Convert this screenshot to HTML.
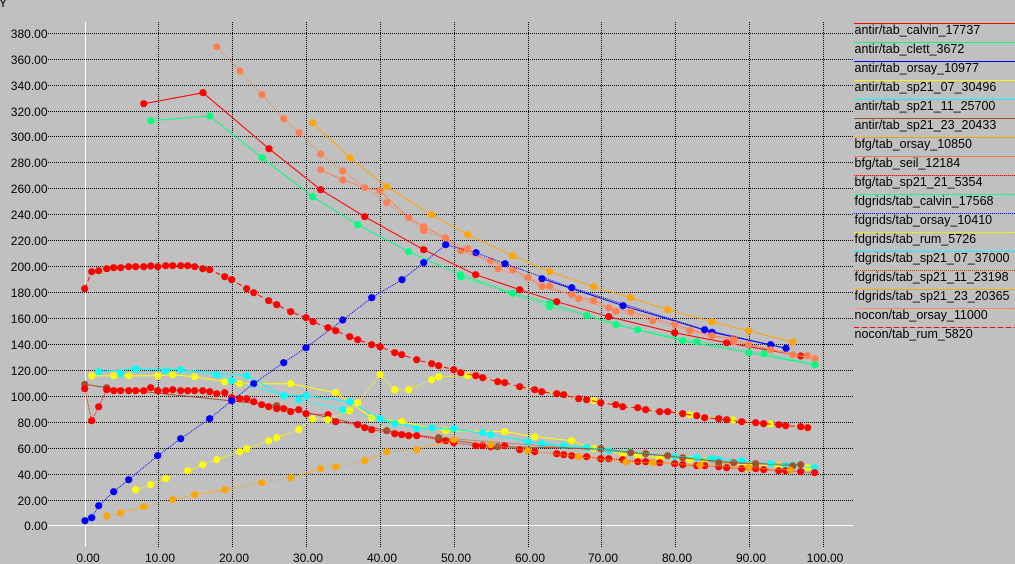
<!DOCTYPE html>
<html>
<head>
<meta charset="utf-8">
<style>
  html,body{margin:0;padding:0;background:#c0c0c0;}
  svg{display:block;}
  text{font-family:"Liberation Sans", Arial, sans-serif;fill:#000;}
</style>
</head>
<body>
<svg width="1015" height="564" viewBox="0 0 1015 564" xmlns="http://www.w3.org/2000/svg">
  <defs>
    <marker id="mRed" markerWidth="8" markerHeight="8" refX="4" refY="4" markerUnits="userSpaceOnUse"><circle cx="4" cy="4" r="3.6" fill="#ff0000"/></marker>
    <marker id="mGreen" markerWidth="8" markerHeight="8" refX="4" refY="4" markerUnits="userSpaceOnUse"><circle cx="4" cy="4" r="3.6" fill="#00ff7f"/></marker>
    <marker id="mBlue" markerWidth="8" markerHeight="8" refX="4" refY="4" markerUnits="userSpaceOnUse"><circle cx="4" cy="4" r="3.6" fill="#0000ff"/></marker>
    <marker id="mYellow" markerWidth="8" markerHeight="8" refX="4" refY="4" markerUnits="userSpaceOnUse"><circle cx="4" cy="4" r="3.6" fill="#ffff00"/></marker>
    <marker id="mCyan" markerWidth="8" markerHeight="8" refX="4" refY="4" markerUnits="userSpaceOnUse"><circle cx="4" cy="4" r="3.6" fill="#00ffff"/></marker>
    <marker id="mBrown" markerWidth="8" markerHeight="8" refX="4" refY="4" markerUnits="userSpaceOnUse"><circle cx="4" cy="4" r="3.6" fill="#a0522d"/></marker>
    <marker id="mOrange" markerWidth="8" markerHeight="8" refX="4" refY="4" markerUnits="userSpaceOnUse"><circle cx="4" cy="4" r="3.6" fill="#ffa500"/></marker>
    <marker id="mCoral" markerWidth="8" markerHeight="8" refX="4" refY="4" markerUnits="userSpaceOnUse"><circle cx="4" cy="4" r="3.6" fill="#ff7f50"/></marker>
  </defs>

  <rect x="0" y="0" width="1015" height="564" fill="#c0c0c0"/>

  <!-- top-left Y label -->
  <text x="-1" y="7" font-size="12">Y</text>

  <!-- horizontal grid lines -->
  <g stroke="#000" stroke-width="1" stroke-dasharray="1,1" fill="none">
    <line x1="48" y1="33.5" x2="853" y2="33.5"/>
    <line x1="48" y1="59.5" x2="853" y2="59.5"/>
    <line x1="48" y1="85.5" x2="853" y2="85.5"/>
    <line x1="48" y1="111.5" x2="853" y2="111.5"/>
    <line x1="48" y1="136.5" x2="853" y2="136.5"/>
    <line x1="48" y1="162.5" x2="853" y2="162.5"/>
    <line x1="48" y1="188.5" x2="853" y2="188.5"/>
    <line x1="48" y1="214.5" x2="853" y2="214.5"/>
    <line x1="48" y1="240.5" x2="853" y2="240.5"/>
    <line x1="48" y1="266.5" x2="853" y2="266.5"/>
    <line x1="48" y1="292.5" x2="853" y2="292.5"/>
    <line x1="48" y1="318.5" x2="853" y2="318.5"/>
    <line x1="48" y1="344.5" x2="853" y2="344.5"/>
    <line x1="48" y1="370.5" x2="853" y2="370.5"/>
    <line x1="48" y1="396.5" x2="853" y2="396.5"/>
    <line x1="48" y1="422.5" x2="853" y2="422.5"/>
    <line x1="48" y1="448.5" x2="853" y2="448.5"/>
    <line x1="48" y1="474.5" x2="853" y2="474.5"/>
    <line x1="48" y1="500.5" x2="853" y2="500.5"/>
  </g>
  <!-- vertical grid lines -->
  <g stroke="#000" stroke-width="1" stroke-dasharray="1,1" fill="none">
    <line x1="158.5" y1="22" x2="158.5" y2="547"/>
    <line x1="232.5" y1="22" x2="232.5" y2="547"/>
    <line x1="306.5" y1="22" x2="306.5" y2="547"/>
    <line x1="380.5" y1="22" x2="380.5" y2="547"/>
    <line x1="454.5" y1="22" x2="454.5" y2="547"/>
    <line x1="528.5" y1="22" x2="528.5" y2="547"/>
    <line x1="601.5" y1="22" x2="601.5" y2="547"/>
    <line x1="675.5" y1="22" x2="675.5" y2="547"/>
    <line x1="749.5" y1="22" x2="749.5" y2="547"/>
    <line x1="823.5" y1="22" x2="823.5" y2="547"/>
  </g>
  <!-- white zero axes -->
  <line x1="85.5" y1="22" x2="85.5" y2="547" stroke="#ffffff" stroke-width="1"/>
  <line x1="48" y1="525.5" x2="853" y2="525.5" stroke="#ffffff" stroke-width="1"/>

  <!-- y tick labels -->
  <g font-size="12" text-anchor="end">
    <text x="47.5" y="38">380.00</text>
    <text x="47.5" y="64">360.00</text>
    <text x="47.5" y="90">340.00</text>
    <text x="47.5" y="116">320.00</text>
    <text x="47.5" y="141">300.00</text>
    <text x="47.5" y="167">280.00</text>
    <text x="47.5" y="193">260.00</text>
    <text x="47.5" y="219">240.00</text>
    <text x="47.5" y="245">220.00</text>
    <text x="47.5" y="271">200.00</text>
    <text x="47.5" y="297">180.00</text>
    <text x="47.5" y="323">160.00</text>
    <text x="47.5" y="349">140.00</text>
    <text x="47.5" y="375">120.00</text>
    <text x="47.5" y="401">100.00</text>
    <text x="47.5" y="427">80.00</text>
    <text x="47.5" y="453">60.00</text>
    <text x="47.5" y="479">40.00</text>
    <text x="47.5" y="505">20.00</text>
    <text x="47.5" y="530">0.00</text>
  </g>
  <!-- x tick labels -->
  <g font-size="12" text-anchor="middle">
    <text x="88" y="562">0.00</text>
    <text x="160" y="562">10.00</text>
    <text x="234" y="562">20.00</text>
    <text x="308" y="562">30.00</text>
    <text x="382" y="562">40.00</text>
    <text x="456" y="562">50.00</text>
    <text x="530" y="562">60.00</text>
    <text x="603" y="562">70.00</text>
    <text x="677" y="562">80.00</text>
    <text x="751" y="562">90.00</text>
    <text x="825" y="562">100.00</text>
  </g>

  <!-- series -->
  <g fill="none" stroke-width="1">
    <!-- 1 antir/tab_calvin_17737 red solid -->
    <polyline stroke="#ff0000" marker-start="url(#mRed)" marker-mid="url(#mRed)" marker-end="url(#mRed)"
      points="143.7,103.7 203,92.7 269,148.7 320.7,189.7 364.7,216.7 423.7,249.7 475.7,274.7 519.7,289.7 556.7,301.7 608.7,316.7 674.7,332.7 726.7,342.7 800.7,356"/>
    <!-- 2 antir/tab_clett_3672 green solid -->
    <polyline stroke="#00ff7f" marker-start="url(#mGreen)" marker-mid="url(#mGreen)" marker-end="url(#mGreen)"
      points="150.7,120.7 209.7,116 262,157.7 312.7,196.7 357.7,224.7 408.7,251.7 460.7,274.7 512.7,293.3 549.7,303.3 616,324.7 682.7,340.7 748.7,352.7 815,364.7"/>
    <!-- 3 antir/tab_orsay_10977 blue solid -->
    <polyline stroke="#0000ff" marker-start="url(#mBlue)" marker-mid="url(#mBlue)" marker-end="url(#mBlue)"
      points="542,278.7 623,305.7 712,332.3 786,348.3"/>
    <!-- 4 antir/tab_sp21_07_30496 yellow solid -->
    <polyline stroke="#ffff00" marker-start="url(#mYellow)" marker-mid="url(#mYellow)" marker-end="url(#mYellow)"
      points="91.7,375.7 113.7,375.7 128.7,375.7 157.7,375.7 172.7,374.7 194.7,376.7 224.7,381.7 239.7,383.7 290.7,383.7 335.7,392.7 371.7,417.7 401.7,421.7 445.7,430.7 504.7,431.7 534.7,436.7 571.7,440.7 593.7,448.7 622.7,453.7 637.7,455.7 659.7,457.7 689.7,459.7 704.7,460.7 748.7,465 778.7,465.7 807.7,467.7"/>
    <!-- 5 antir/tab_sp21_11_25700 cyan solid -->
    <polyline stroke="#00ffff" marker-start="url(#mCyan)" marker-mid="url(#mCyan)" marker-end="url(#mCyan)"
      points="98.7,371.7 135.7,368.7 180.7,369.7 246.7,375.7 283.7,395.7 306,395.7 349.7,401.7 380,418.7 416.7,428.7 453.7,428.7 490.7,434.7 541.7,443.7 563.7,445.7 586.7,447.7 608.7,450.7 674.7,456.7 711.7,458.7 741.7,460.7 785.7,465.7 814.7,467.7"/>
    <!-- 6 antir/tab_sp21_23_20433 brown solid -->
    <polyline stroke="#a0522d" marker-start="url(#mBrown)" marker-mid="url(#mBrown)" marker-end="url(#mBrown)"
      points="84.7,384.3 106.7,387.7 276.7,405.7 386.7,430.7 497.7,446.7 600.7,448.7 645.7,453.7 682.7,457.7 733.7,462.7 800.7,464.7"/>
    <!-- 7 bfg/tab_orsay_10850 orange solid -->
    <polyline stroke="#ffa500" marker-start="url(#mOrange)" marker-mid="url(#mOrange)" marker-end="url(#mOrange)"
      points="312.7,122.7 349.7,157.7 386.7,186.7 431.7,214.7 467.7,234.7 512.7,255.7 549.7,271.7 593.7,286.7 630.7,297.7 667.7,309.7 712,321.7 748.7,330.7 792.7,342"/>
    <!-- 8 bfg/tab_seil_12184 coral solid -->
    <polyline stroke="#ff7f50" marker-start="url(#mCoral)" marker-mid="url(#mCoral)" marker-end="url(#mCoral)"
      points="320.7,169.7 342.7,180 364.7,187.7 379.7,190.7 408.7,217.7 423.7,226.7 445.7,238 460.7,250.7 490.7,260.7 513,269.7 528,277.7 542,286.7 571.7,294.7 593.7,300.7 608.7,307.7 630.7,311.7 674.7,324.7 712,335.7 733.7,338.7 748.7,344.7 792.7,354.7 815,358.7"/>
    <!-- 9 bfg/tab_sp21_21_5354 red dotted (lower arc) -->
    <polyline stroke="#ff0000" stroke-dasharray="1,1" marker-start="url(#mRed)" marker-mid="url(#mRed)" marker-end="url(#mRed)"
      points="84.7,388.7 91.7,420.7 98.7,406.7 106.7,389.7 113.7,390.7 120.7,390.7 128.7,390.7 135.7,390.7 143.7,390.7 150.7,387.7 157.7,390.7 165.7,390.7 172.7,389.7 180.7,390.7 187.7,390.7 194.7,390.7 202.7,390.7 209.7,391.7 216.7,393.7 224.7,392.7 231.7,397.7 239.7,398.7 246.7,398.7 253.7,401.7 261.7,404.7 268.7,406.7 276.7,408.7 283.7,408.7 290.7,411.7 298.7,409.7 306,413.7 328,414.7 335.7,421.7 357.7,424.7 364.7,427.7 371.7,429.7 394.7,433.7 401.7,434.7 408.7,435.7 416.7,435.7 438.7,439.7 445.7,440.7 453.7,442.7 475.7,445.7 482.7,445.7 490.7,446.7 504.7,445.7 519.7,449.7 534.7,451.7 556.7,453.7 563.7,454.7 571.7,455.7 586.7,456.7 600.7,458.7 608.7,458.7 622.7,459.7 637.7,461.7 645.7,461.7 659.7,462.7 674.7,463.7 682.7,464.7 696.7,465.7 704.7,465.7 718.7,466.7 726.7,467.7 741.7,468.7 755.7,468.7 763.7,469.7 778.7,470.7 785.7,470.7 800.7,471.7 814.7,472.7"/>
    <!-- 10 fdgrids/tab_calvin_17568 green dotted -->
    <polyline stroke="#00ff7f" stroke-dasharray="1,1" marker-start="url(#mGreen)" marker-mid="url(#mGreen)" marker-end="url(#mGreen)"
      points="460.7,277 549.7,306.7 586.7,315.7 637.7,329.7 697,341.7 764,353.7 815,364.7"/>
    <!-- 11 fdgrids/tab_orsay_10410 blue dotted -->
    <polyline stroke="#0000ff" stroke-dasharray="1,1" marker-start="url(#mBlue)" marker-mid="url(#mBlue)" marker-end="url(#mBlue)"
      points="85,520.7 91.7,517.7 98.7,505.7 113.7,491.7 128.7,479.7 157.7,455.7 180.7,438.7 209.7,418.7 231.7,400.7 253.7,383.7 283.7,362.7 306,347.7 342.7,320 371.7,297.7 402,279.7 423.7,262.7 445.7,244.7 476,252.7 505,263.7 571.7,287.7 704.7,329.7 770.7,344.7"/>
    <!-- 12 fdgrids/tab_rum_5726 yellow dotted -->
    <polyline stroke="#ffff00" stroke-dasharray="1,1" marker-start="url(#mYellow)" marker-mid="url(#mYellow)" marker-end="url(#mYellow)"
      points="135.7,489.7 150.7,484.7 165.7,478.7 187.7,470.7 202.7,464.7 216.7,459.7 239.7,451.7 246.7,448.7 268.7,440.7 276.7,437.7 298.7,429.7 312.7,419 327.7,419.7 349.7,410.7 357.7,402.7 380,374.7 394.7,389.7 408.7,389.7 431.7,379.7 438.7,376.7 467.7,375.7 497.7,381.7 534.7,389.7 563.7,394.7 593.7,400.7 637.7,407.7 689.7,414.7 733,420 770,424 807.7,427.7"/>
    <!-- 13 fdgrids/tab_sp21_07_37000 cyan dotted -->
    <polyline stroke="#00ffff" stroke-dasharray="1,1" marker-start="url(#mCyan)" marker-mid="url(#mCyan)" marker-end="url(#mCyan)"
      points="120.7,373.7 165.7,370.7 216.7,374.7 231.7,380.7 298.7,399.7 342.7,409.7 394.7,423.7 431.7,427.7 482.7,432.7 527.7,441.7 630,452 696.7,457.7 718.7,459.7 770.7,463.7 792.7,465"/>
    <!-- 14 fdgrids/tab_sp21_11_23198 brown dotted -->
    <polyline stroke="#a0522d" stroke-dasharray="1,1" marker-start="url(#mBrown)" marker-mid="url(#mBrown)" marker-end="url(#mBrown)"
      points="438.7,437.7 630.7,452.7 667.7,455.7 718.7,462.7 755.7,463.7 792.7,466"/>
    <!-- 15 fdgrids/tab_sp21_23_20365 orange dotted -->
    <polyline stroke="#ffa500" stroke-dasharray="1,1" marker-start="url(#mOrange)" marker-mid="url(#mOrange)" marker-end="url(#mOrange)"
      points="106.7,516 120.7,512.7 143.7,506.7 172.7,499.7 194.7,494.7 224.7,489.7 261.7,482.7 290.7,477.7 320.7,468.7 335.7,466.7 364.7,460.7 386.7,451.7 416.7,449.7 453.7,439.7 490.7,444.7 527.7,450.7 578.7,456.7 626,462 652.7,462.7 700,465 748.7,467.7 790,470"/>
    <!-- 16 nocon/tab_orsay_11000 coral dotted -->
    <polyline stroke="#ff7f50" stroke-dasharray="1,1" marker-start="url(#mCoral)" marker-mid="url(#mCoral)" marker-end="url(#mCoral)"
      points="216.7,46.7 240,71 262,94.7 283.7,118.7 299,132.7 320.7,154 342.7,171 386.7,202.7 423.7,230.7 467.7,248.7 498,268.7 549.7,286 578.7,298.7 615.7,311.3 652.7,320.7 690,330.7 733.7,341.7 770.7,349.7 807.7,355.7"/>
    <!-- 17 nocon/tab_rum_5820 red dashed (upper arc) -->
    <polyline stroke="#ff0000" stroke-dasharray="5,3" marker-start="url(#mRed)" marker-mid="url(#mRed)" marker-end="url(#mRed)"
      points="84.7,288.7 91.7,271.7 98.7,270.7 106.7,268.7 113.7,267.7 120.7,267.7 128.7,266.7 135.7,266.7 143.7,266.7 150.7,266 157.7,266.7 165.7,265.7 172.7,265.7 180.7,265.7 187.7,265.7 194.7,266.7 202.7,268.7 209.7,269.7 224.7,276.7 231.7,279.7 246.7,288.7 253.7,292.7 268.7,300.7 276.7,304.7 290.7,311.7 306,317.7 313,321.7 328,327.7 335.7,330.7 349.7,336.7 357.7,339.7 371.7,344.7 380,346.7 394.7,352.7 401.7,354.7 416.7,359.7 431.7,363.7 438.7,365.7 453.7,369.7 460.7,372.7 475.7,375.7 482.7,377.7 497.7,381.7 504.7,382.7 519.7,386.7 534.7,389.7 541.7,391.7 556.7,393.7 563.7,394.7 578.7,398.7 586.7,399.7 600.7,402.7 615.7,404.7 622.7,406.7 637.7,407.7 645.7,409.7 659.7,411.7 667.7,411.7 682.7,413.7 696.7,415.7 704.7,417.7 718.7,418.7 726.7,419.7 741.7,421.7 755.7,422.7 763.7,423.7 778.7,424.7 785.7,425.7 800.7,426.7 807.7,427.7"/>
  </g>

  <!-- legend -->
  <g stroke-width="1" fill="none">
    <line x1="854" y1="23.5" x2="1015" y2="23.5" stroke="#ff0000"/>
    <line x1="854" y1="42.5" x2="1015" y2="42.5" stroke="#00ff7f"/>
    <line x1="854" y1="61.5" x2="1015" y2="61.5" stroke="#0000ff"/>
    <line x1="854" y1="80.5" x2="1015" y2="80.5" stroke="#ffff00"/>
    <line x1="854" y1="99.5" x2="1015" y2="99.5" stroke="#00ffff"/>
    <line x1="854" y1="118.5" x2="1015" y2="118.5" stroke="#a0522d"/>
    <line x1="854" y1="137.5" x2="1015" y2="137.5" stroke="#ffa500"/>
    <line x1="854" y1="156.5" x2="1015" y2="156.5" stroke="#ff7f50"/>
    <line x1="854" y1="175.5" x2="1015" y2="175.5" stroke="#ff0000" stroke-dasharray="1,1"/>
    <line x1="854" y1="194.5" x2="1015" y2="194.5" stroke="#00ff7f" stroke-dasharray="1,1"/>
    <line x1="854" y1="213.5" x2="1015" y2="213.5" stroke="#0000ff" stroke-dasharray="1,1"/>
    <line x1="854" y1="232.5" x2="1015" y2="232.5" stroke="#ffff00" stroke-dasharray="1,1"/>
    <line x1="854" y1="251.5" x2="1015" y2="251.5" stroke="#00ffff" stroke-dasharray="1,1"/>
    <line x1="854" y1="270.5" x2="1015" y2="270.5" stroke="#a0522d" stroke-dasharray="1,1"/>
    <line x1="854" y1="289.5" x2="1015" y2="289.5" stroke="#ffa500" stroke-dasharray="1,1"/>
    <line x1="854" y1="308.5" x2="1015" y2="308.5" stroke="#ff7f50" stroke-dasharray="1,1"/>
    <line x1="854" y1="327.5" x2="1015" y2="327.5" stroke="#ff0000" stroke-dasharray="5,3"/>
  </g>
  <g font-size="12.5">
    <text x="854.5" y="34">antir/tab_calvin_17737</text>
    <text x="854.5" y="53">antir/tab_clett_3672</text>
    <text x="854.5" y="72">antir/tab_orsay_10977</text>
    <text x="854.5" y="91">antir/tab_sp21_07_30496</text>
    <text x="854.5" y="110">antir/tab_sp21_11_25700</text>
    <text x="854.5" y="129">antir/tab_sp21_23_20433</text>
    <text x="854.5" y="148">bfg/tab_orsay_10850</text>
    <text x="854.5" y="167">bfg/tab_seil_12184</text>
    <text x="854.5" y="186">bfg/tab_sp21_21_5354</text>
    <text x="854.5" y="205">fdgrids/tab_calvin_17568</text>
    <text x="854.5" y="224">fdgrids/tab_orsay_10410</text>
    <text x="854.5" y="243">fdgrids/tab_rum_5726</text>
    <text x="854.5" y="262">fdgrids/tab_sp21_07_37000</text>
    <text x="854.5" y="281">fdgrids/tab_sp21_11_23198</text>
    <text x="854.5" y="300">fdgrids/tab_sp21_23_20365</text>
    <text x="854.5" y="319">nocon/tab_orsay_11000</text>
    <text x="854.5" y="338">nocon/tab_rum_5820</text>
  </g>
</svg>
</body>
</html>
